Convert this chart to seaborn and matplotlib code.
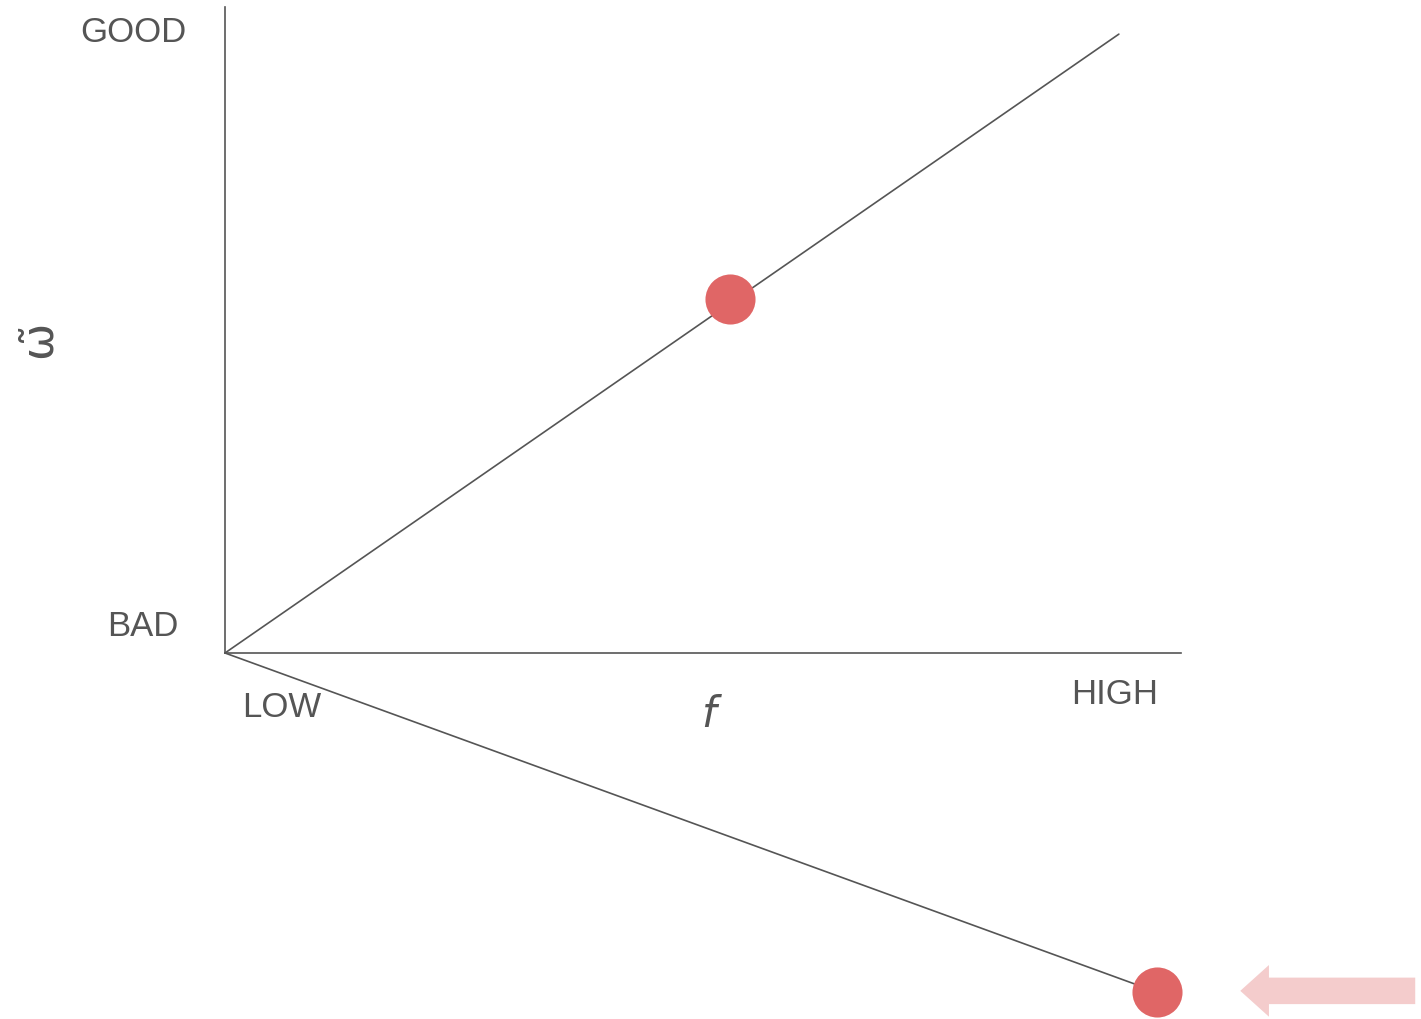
import matplotlib
matplotlib.use("Agg")
import matplotlib.pyplot as plt
import seaborn as sns
import pandas as pd
from matplotlib.patches import FancyArrow

sns.set_theme(style="white")
plt.rcParams['font.family'] = ['Liberation Sans', 'DejaVu Sans']

# Data (normalized units: x from LOW=0 to 1, y from BAD=0 to GOOD=1)
upper_x = [0.0, 0.935]
upper_y = [0.0, 0.958]
lower_x = [0.0, 0.975]
lower_y = [0.0, -0.525]
dot_x = [0.528, 0.975]
dot_y = [0.548, -0.525]
arrow_start_x = 1.245
arrow_end_x = 1.062
arrow_y = -0.523

y_labels = ["BAD", "GOOD"]
x_labels = ["LOW", "HIGH"]
x_title = "f"
y_title = "ω\u0303"

W, H = 1421, 1020
fig = plt.figure(figsize=(W / 100, H / 100), dpi=100)
L, R, T, B = 225, 1181, 8, 654
ax = fig.add_axes([L / W, 1 - B / H, (R - L) / W, (B - T) / H])
ax.set_xlim(0, 1)
ax.set_ylim(0, 1)

gray = "#555555"
red = "#e06666"
pink = "#f4cccc"

sns.lineplot(x=upper_x, y=upper_y, ax=ax, color=gray, lw=1.2, clip_on=False)
sns.lineplot(x=lower_x, y=lower_y, ax=ax, color=gray, lw=1.2, clip_on=False)
sns.scatterplot(x=dot_x, y=dot_y, ax=ax, color=red, s=1300, linewidth=0,
                clip_on=False, zorder=5)

arr = FancyArrow(arrow_start_x, arrow_y, arrow_end_x - arrow_start_x, 0,
                 width=0.041, head_width=0.080, head_length=0.030,
                 length_includes_head=True, color=pink, lw=0, clip_on=False)
ax.add_patch(arr)

for s in ["top", "right"]:
    ax.spines[s].set_visible(False)
for s in ["left", "bottom"]:
    ax.spines[s].set_color(gray)
    ax.spines[s].set_linewidth(1.2)
ax.set_xticks([])
ax.set_yticks([])

def px(x, y):
    return x / W, 1 - y / H

fs = 25
fig.text(*px(187, 33), y_labels[1], ha="right", va="center", fontsize=fs, color=gray)
fig.text(*px(179, 627), y_labels[0], ha="right", va="center", fontsize=fs, color=gray)
fig.text(*px(242, 708), x_labels[0], ha="left", va="center", fontsize=fs, color=gray)
fig.text(*px(1158, 695), x_labels[1], ha="right", va="center", fontsize=fs, color=gray)
fig.text(*px(708, 715), x_title, ha="center", va="center", fontsize=30,
         color=gray, style="italic", family=["DejaVu Sans"])
fig.text(*px(38, 339), y_title, ha="center", va="center", fontsize=32,
         color=gray, rotation=90, family=["DejaVu Sans"])

fig.savefig("out.png", dpi=100, facecolor="white")
